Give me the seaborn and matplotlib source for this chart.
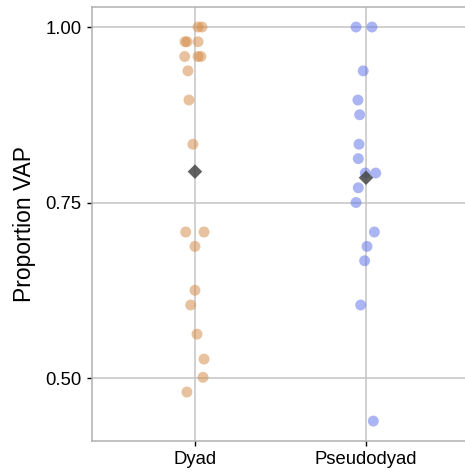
import numpy as np
import pandas as pd
import matplotlib
matplotlib.use("Agg")
import matplotlib.pyplot as plt
import seaborn as sns

# ---- data ----
categories = ["Dyad", "Pseudodyad"]
dyad_vals = [1.000, 1.000, 0.979, 0.979, 0.979, 0.958, 0.958, 0.958, 0.9375,
             0.896, 0.833, 0.708, 0.708, 0.6875, 0.625, 0.604, 0.5625,
             0.527, 0.501, 0.480]
dyad_jitter = [0.018, 0.041, -0.058, -0.047, 0.018, -0.060, 0.018, 0.035, -0.041,
               -0.035, -0.012, -0.054, 0.053, 0.0, 0.0, -0.025, 0.012,
               0.053, 0.047, -0.047]
pseudo_vals = [1.000, 1.000, 0.9375, 0.896, 0.875, 0.833, 0.8125, 0.792, 0.792,
               0.771, 0.750, 0.708, 0.6875, 0.667, 0.604, 0.4387]
pseudo_jitter = [-0.058, 0.035, -0.016, -0.047, -0.037, -0.041, -0.045, -0.004, 0.057,
                 -0.045, -0.058, 0.049, 0.006, -0.008, -0.031, 0.043]
yticks = [0.50, 0.75, 1.00]
ytick_labels = ["0.50", "0.75", "1.00"]
palette = {"Dyad": "#D48A45", "Pseudodyad": "#5F72EA"}

df = pd.DataFrame({
    "condition": ["Dyad"] * len(dyad_vals) + ["Pseudodyad"] * len(pseudo_vals),
    "value": dyad_vals + pseudo_vals,
    "jitter": dyad_jitter + pseudo_jitter,
})
df["pos"] = df["condition"].map({c: i for i, c in enumerate(categories)}) + df["jitter"]
means = df.groupby("condition", sort=False)["value"].mean().reset_index()
means["pos"] = means["condition"].map({c: i for i, c in enumerate(categories)})

sns.set_style("white")
plt.rcParams["font.family"] = ["Liberation Sans", "DejaVu Sans"]

fig = plt.figure(figsize=(4.65, 4.72), dpi=100)
ax = fig.add_axes([92 / 465, 31 / 472, 1 - 92 / 465, (441 - 7) / 472])

sns.scatterplot(data=df, x="pos", y="value", hue="condition", palette=palette,
                s=62, alpha=0.52, edgecolor="none", legend=False, ax=ax, zorder=3)
sns.scatterplot(data=means, x="pos", y="value", marker="D", color="#454545",
                s=55, alpha=0.85, edgecolor="none", legend=False, ax=ax, zorder=4)

ax.set_xlim(-0.602, 1.579)
ax.set_ylim(0.4103, 1.0285)
ax.set_xticks(range(len(categories)))
ax.set_xticklabels(categories)
ax.set_yticks(yticks)
ax.set_yticklabels(ytick_labels)
ax.set_xlabel("")
ax.set_ylabel("Proportion VAP", fontsize=16.5, color="black", labelpad=7)

ax.grid(True, color="#c4c4c4", linewidth=1.1, zorder=0)
ax.set_axisbelow(True)
for side in ["left", "bottom", "top"]:
    ax.spines[side].set_visible(True)
    ax.spines[side].set_color("#b0b0b0")
    ax.spines[side].set_linewidth(1.1)
ax.spines["right"].set_visible(False)
ax.tick_params(axis="both", which="major", length=3.5, width=1.0, color="black",
               labelsize=13.3, labelcolor="black", left=True, bottom=True)
ax.tick_params(axis="y", pad=4)
ax.tick_params(axis="x", pad=3.5)

fig.savefig("out.png", dpi=100)
